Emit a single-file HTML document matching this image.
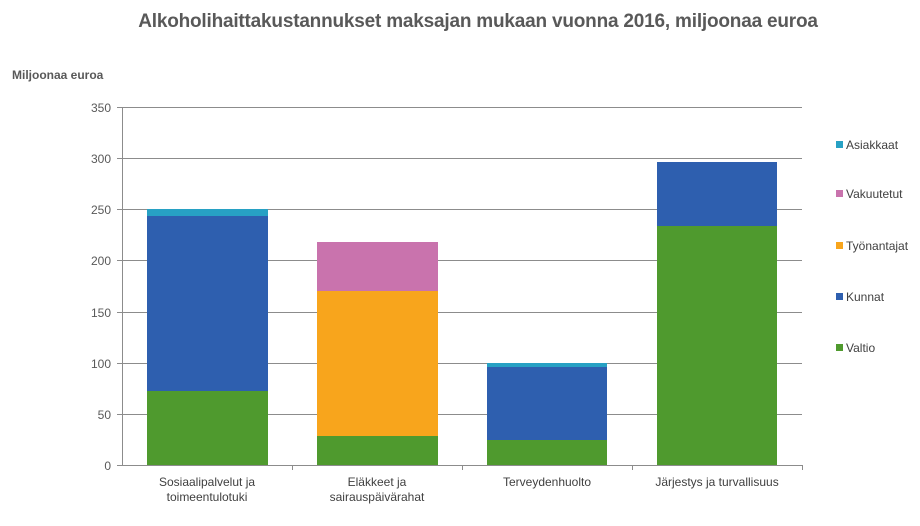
<!DOCTYPE html>
<html><head><meta charset="utf-8"><style>body{margin:0;background:#fff}svg{display:block}text{font-family:"Liberation Sans",sans-serif}</style></head><body>
<svg width="920" height="526" viewBox="0 0 920 526">
<rect width="920" height="526" fill="#fff"/>
<text x="478" y="27" text-anchor="middle" font-size="19" font-weight="bold" fill="#595959" letter-spacing="-0.2">Alkoholihaittakustannukset maksajan mukaan vuonna 2016, miljoonaa euroa</text>
<text x="12" y="79" font-size="12" font-weight="bold" fill="#595959">Miljoonaa euroa</text>
<g stroke="#8c8c8c" stroke-width="1">
<line x1="117" y1="107.5" x2="802" y2="107.5"/>
<line x1="117" y1="158.5" x2="802" y2="158.5"/>
<line x1="117" y1="209.5" x2="802" y2="209.5"/>
<line x1="117" y1="260.5" x2="802" y2="260.5"/>
<line x1="117" y1="312.5" x2="802" y2="312.5"/>
<line x1="117" y1="363.5" x2="802" y2="363.5"/>
<line x1="117" y1="414.5" x2="802" y2="414.5"/>
<line x1="117" y1="465.5" x2="802" y2="465.5"/>
<line x1="122.5" y1="107" x2="122.5" y2="465"/>
<line x1="292.5" y1="465" x2="292.5" y2="470"/>
<line x1="462.5" y1="465" x2="462.5" y2="470"/>
<line x1="632.5" y1="465" x2="632.5" y2="470"/>
<line x1="802.5" y1="465" x2="802.5" y2="470"/>
</g>
<g font-size="12" fill="#595959" text-anchor="end">
<text x="111" y="112">350</text><text x="111" y="163">300</text><text x="111" y="214">250</text><text x="111" y="265">200</text><text x="111" y="317">150</text><text x="111" y="368">100</text><text x="111" y="419">50</text><text x="111" y="470">0</text>
</g>
<rect x="147" y="391" width="121" height="74" fill="#4f9a2e"/>
<rect x="147" y="216" width="121" height="175" fill="#2e5faf"/>
<rect x="147" y="209" width="121" height="7" fill="#27a1c4"/>
<rect x="317" y="436" width="121" height="29" fill="#4f9a2e"/>
<rect x="317" y="291" width="121" height="145" fill="#f8a51c"/>
<rect x="317" y="242" width="121" height="49" fill="#c973ad"/>
<rect x="487" y="440" width="120" height="25" fill="#4f9a2e"/>
<rect x="487" y="367" width="120" height="73" fill="#2e5faf"/>
<rect x="487" y="363" width="120" height="4" fill="#27a1c4"/>
<rect x="657" y="226" width="120" height="239" fill="#4f9a2e"/>
<rect x="657" y="162" width="120" height="64" fill="#2e5faf"/>
<g font-size="12" fill="#404040" text-anchor="middle">
<text x="207" y="486">Sosiaalipalvelut ja</text><text x="207" y="501">toimeentulotuki</text>
<text x="377" y="486">Eläkkeet ja</text><text x="377" y="501">sairauspäivärahat</text>
<text x="547" y="486">Terveydenhuolto</text>
<text x="717" y="486">Järjestys ja turvallisuus</text>
</g>
<g font-size="12" fill="#404040">
<rect x="836" y="141" width="7" height="7" fill="#27a1c4"/><text x="846" y="149">Asiakkaat</text>
<rect x="836" y="190" width="7" height="7" fill="#c973ad"/><text x="846" y="198">Vakuutetut</text>
<rect x="836" y="242" width="7" height="7" fill="#f8a51c"/><text x="846" y="250">Työnantajat</text>
<rect x="836" y="293" width="7" height="7" fill="#2e5faf"/><text x="846" y="301">Kunnat</text>
<rect x="836" y="344" width="7" height="7" fill="#4f9a2e"/><text x="846" y="352">Valtio</text>
</g>
</svg>
</body></html>
